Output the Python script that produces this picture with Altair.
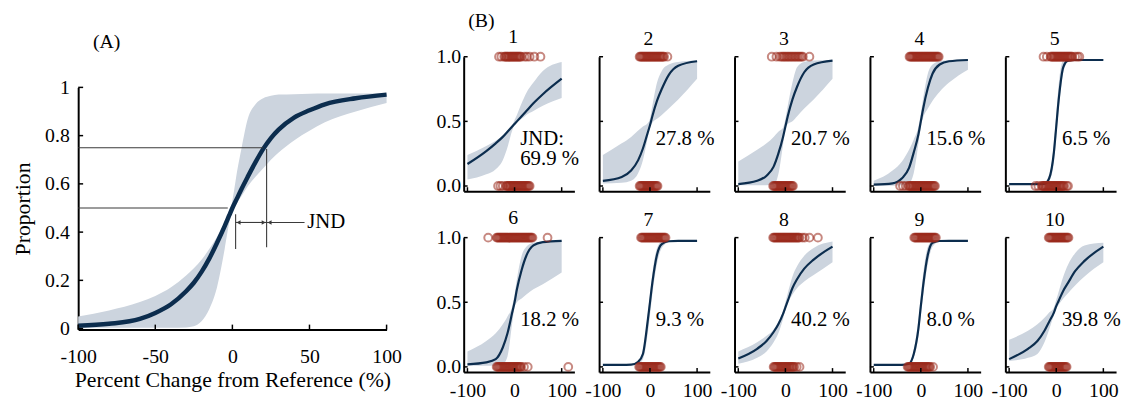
import altair as alt
import pandas as pd

FONT = "Liberation Serif"
NAVY = "#0c2d4e"
BAND = "#ccd4de"
RED = "#9b2a1c"
GUIDE = "#3a3a3a"

# ---------------- Panel (A) ----------------
XA = [-100, -80, -60, -50, -40, -30, -25, -20, -15, -10, -5, -2, 0, 3, 6, 10, 15, 20, 25, 30, 40, 50, 60, 80, 100]
A_MEAN = [0.012, 0.02, 0.04, 0.065, 0.10, 0.155, 0.19, 0.235, 0.29, 0.355, 0.425, 0.47, 0.50, 0.54, 0.58, 0.63, 0.69, 0.745, 0.79, 0.825, 0.875, 0.905, 0.93, 0.955, 0.97]
A_UPPER = [0.05, 0.075, 0.11, 0.135, 0.17, 0.22, 0.25, 0.285, 0.33, 0.38, 0.44, 0.475, 0.53, 0.65, 0.75, 0.87, 0.93, 0.955, 0.965, 0.97, 0.972, 0.974, 0.975, 0.975, 0.975]
A_LOWER = [0.003, 0.003, 0.003, 0.003, 0.003, 0.005, 0.01, 0.03, 0.08, 0.17, 0.33, 0.44, 0.49, 0.52, 0.55, 0.59, 0.63, 0.665, 0.70, 0.73, 0.78, 0.82, 0.855, 0.90, 0.935]
A_XTICKS = [-100, -50, 0, 50, 100]
A_YTICKS = [0, 0.2, 0.4, 0.6, 0.8, 1]
GUIDE_X1 = [-100, -100, 2.1, 22.2, 2.1, 22.2]
GUIDE_X2 = [-3, 20, 2.1, 22.2, 22.2, 46.8]
GUIDE_Y1 = [0.5, 0.75, 0.33, 0.337, 0.44, 0.44]
GUIDE_Y2 = [0.5, 0.75, 0.474, 0.745, 0.44, 0.44]
ARROW_X = [4.0, 20.3, 24.1]
ARROW_Y = [0.44, 0.44, 0.44]
ARROW_SHAPE = ["triangle-left", "triangle-right", "triangle-left"]
JND_X = [48.5]
JND_Y = [0.44]

# ---------------- Panel (B) ----------------
XG = [-100, -60, -40, -25, -15, -5, 0, 5, 15, 25, 40, 60, 100]
MEAN = [
    [0.17, 0.27, 0.33, 0.38, 0.42, 0.46, 0.48, 0.50, 0.54, 0.58, 0.64, 0.71, 0.83],
    [0.04, 0.07, 0.12, 0.20, 0.29, 0.41, 0.47, 0.54, 0.66, 0.75, 0.86, 0.93, 0.965],
    [0.015, 0.04, 0.08, 0.15, 0.25, 0.38, 0.46, 0.54, 0.67, 0.77, 0.88, 0.94, 0.97],
    [0.01, 0.02, 0.06, 0.14, 0.26, 0.40, 0.50, 0.60, 0.76, 0.87, 0.94, 0.965, 0.975],
    [0.015, 0.015, 0.015, 0.017, 0.06, 0.26, 0.46, 0.66, 0.92, 0.97, 0.975, 0.975, 0.975],
    [0.02, 0.035, 0.06, 0.15, 0.26, 0.42, 0.50, 0.60, 0.75, 0.86, 0.94, 0.965, 0.975],
    [0.015, 0.015, 0.017, 0.04, 0.10, 0.35, 0.50, 0.65, 0.87, 0.95, 0.972, 0.975, 0.975],
    [0.065, 0.14, 0.20, 0.27, 0.33, 0.41, 0.46, 0.51, 0.61, 0.68, 0.76, 0.83, 0.93],
    [0.015, 0.015, 0.016, 0.025, 0.10, 0.30, 0.47, 0.63, 0.87, 0.96, 0.974, 0.975, 0.975],
    [0.06, 0.14, 0.20, 0.28, 0.35, 0.42, 0.47, 0.51, 0.59, 0.65, 0.74, 0.82, 0.93],
]
UPPER = [
    [0.24, 0.31, 0.35, 0.39, 0.43, 0.47, 0.51, 0.55, 0.64, 0.72, 0.80, 0.89, 0.96],
    [0.24, 0.33, 0.38, 0.43, 0.46, 0.485, 0.52, 0.62, 0.80, 0.89, 0.94, 0.96, 0.97],
    [0.19, 0.28, 0.33, 0.38, 0.42, 0.45, 0.52, 0.62, 0.80, 0.92, 0.96, 0.97, 0.975],
    [0.04, 0.12, 0.19, 0.28, 0.36, 0.46, 0.56, 0.68, 0.87, 0.94, 0.965, 0.975, 0.98],
    [0.016, 0.016, 0.016, 0.02, 0.08, 0.33, 0.55, 0.78, 0.97, 0.978, 0.978, 0.978, 0.978],
    [0.12, 0.20, 0.26, 0.33, 0.39, 0.47, 0.56, 0.68, 0.86, 0.93, 0.96, 0.97, 0.975],
    [0.015, 0.015, 0.018, 0.05, 0.13, 0.40, 0.56, 0.72, 0.92, 0.97, 0.976, 0.978, 0.978],
    [0.12, 0.19, 0.24, 0.29, 0.35, 0.43, 0.50, 0.57, 0.70, 0.78, 0.86, 0.92, 0.97],
    [0.015, 0.015, 0.017, 0.035, 0.13, 0.37, 0.55, 0.72, 0.93, 0.972, 0.977, 0.978, 0.978],
    [0.21, 0.28, 0.33, 0.38, 0.42, 0.46, 0.52, 0.58, 0.70, 0.79, 0.88, 0.94, 0.96],
]
LOWER = [
    [0.05, 0.09, 0.13, 0.20, 0.30, 0.43, 0.47, 0.49, 0.52, 0.55, 0.58, 0.62, 0.68],
    [0.02, 0.025, 0.04, 0.10, 0.20, 0.37, 0.455, 0.49, 0.52, 0.55, 0.60, 0.67, 0.83],
    [0.005, 0.005, 0.006, 0.01, 0.09, 0.32, 0.44, 0.48, 0.50, 0.54, 0.60, 0.67, 0.83],
    [0.002, 0.002, 0.005, 0.02, 0.10, 0.33, 0.46, 0.53, 0.60, 0.66, 0.73, 0.80, 0.90],
    [0.012, 0.012, 0.013, 0.015, 0.04, 0.18, 0.38, 0.58, 0.88, 0.96, 0.972, 0.975, 0.975],
    [0.008, 0.008, 0.01, 0.02, 0.08, 0.34, 0.46, 0.50, 0.53, 0.56, 0.60, 0.64, 0.73],
    [0.015, 0.015, 0.016, 0.025, 0.06, 0.25, 0.40, 0.56, 0.80, 0.92, 0.965, 0.973, 0.975],
    [0.025, 0.07, 0.12, 0.19, 0.26, 0.37, 0.44, 0.49, 0.56, 0.61, 0.66, 0.71, 0.81],
    [0.014, 0.014, 0.015, 0.02, 0.07, 0.24, 0.40, 0.55, 0.80, 0.93, 0.968, 0.974, 0.975],
    [0.045, 0.07, 0.10, 0.19, 0.29, 0.40, 0.45, 0.48, 0.53, 0.57, 0.63, 0.70, 0.81],
]
# stimulus levels of the individual responses (answered "1" / answered "0")
RESP1 = [
    [-33, -28, -22, -20, -18, -16, -14, -12, -10, -8, -6, -4, -2, 0, 2, 4, 6, 8, 10, 12, 14, 21, 26, 32, 42, 55],
    [-22, -20, -18, -16, -14, -12, -10, -8, -6, -4, -2, 0, 2, 4, 6, 8, 10, 12, 14, 16, 18, 20, 22, 24, 26, 28, 30, 37],
    [-29, -19, -12, -8, -5, -2, 1, 4, 7, 10, 13, 16, 19, 22, 25, 28, 31, 34, 37, 51],
    [-24, -22, -20, -18, -16, -14, -12, -10, -8, -6, -4, -2, 0, 2, 4, 6, 8, 10, 12, 14, 16, 18, 20, 22, 24, 26, 28, 30, 32, 34, 36, 38],
    [-27, -20, -12, -10, -8, -6, -4, -2, 0, 2, 4, 6, 8, 10, 12, 14, 16, 18, 20, 22, 24, 26, 28, 30, 32, 34, 40, 45, 49],
    [-56, -38, -36, -34, -32, -30, -28, -26, -24, -22, -20, -18, -16, -14, -12, -10, -8, -6, -4, -2, 0, 2, 4, 6, 8, 10, 12, 14, 16, 18, 20, 22, 24, 26, 28, 30, 32, 34, 36, 38, 70],
    [-19, -17, -15, -13, -11, -9, -7, -5, -3, -1, 1, 3, 5, 7, 9, 11, 13, 15, 17, 19, 21, 23, 25, 27, 29, 31, 33],
    [-26, -24, -22, -20, -18, -16, -14, -12, -10, -8, -6, -4, -2, 0, 2, 4, 6, 8, 10, 12, 14, 16, 18, 20, 22, 24, 26, 28, 30, 36, 41, 51, 69],
    [-14, -12, -10, -8, -6, -4, -2, 0, 2, 4, 6, 8, 10, 12, 14, 16, 18, 20, 22, 24, 26, 28, 30, 32],
    [-16, -14, -12, -10, -8, -6, -4, -2, 0, 2, 4, 6, 8, 10, 12, 14, 16, 18, 20, 22, 24, 26],
]
RESP0 = [
    [-35, -30, -25, -18, -16, -14, -12, -10, -8, -6, -4, -2, 0, 2, 4, 6, 8, 10, 12, 14, 16, 18, 20, 22, 24, 26, 28, 30, 32],
    [-22, -20, -18, -16, -14, -12, -10, -8, -6, -4, -2, 0, 2, 4, 6, 8, 10, 12, 14, 16],
    [-26, -24, -22, -20, -18, -16, -14, -12, -10, -8, -6, -4, -2, 0, 2, 4, 6, 8, 10, 12, 14, 16],
    [-44, -38, -32, -26, -24, -22, -20, -18, -16, -14, -12, -10, -8, -6, -4, -2, 0, 2, 4, 6, 8, 10, 12, 14, 16, 18, 20, 22, 24, 26, 28, 30],
    [-44, -38, -31, -29, -27, -25, -23, -21, -19, -17, -15, -13, -11, -9, -7, -5, -3, -1, 1, 3, 5, 7, 9, 11, 13, 15, 17, 22, 25],
    [-38, -36, -34, -32, -30, -28, -26, -24, -22, -20, -18, -16, -14, -12, -10, -8, -6, -4, -2, 0, 2, 4, 6, 8, 10, 12, 14, 20, 28, 114],
    [-23, -21, -19, -17, -15, -13, -11, -9, -7, -5, -3, -1, 1, 3, 5, 7, 9, 11, 13, 15, 17, 19, 21, 23],
    [-25, -23, -21, -19, -17, -15, -13, -11, -9, -7, -5, -3, -1, 1, 3, 5, 7, 9, 11, 13, 15, 17, 19, 24, 30],
    [-28, -26, -24, -22, -20, -18, -16, -14, -12, -10, -8, -6, -4, -2, 0, 2, 4, 6, 8, 10, 12, 14, 16, 18, 20, 26],
    [-16, -14, -12, -10, -8, -6, -4, -2, 0, 2, 4, 6, 8, 10, 12, 14, 16, 18, 20, 22],
]
JND_LABELS = ["JND:\n69.9 %", "27.8 %", "20.7 %", "15.6 %", "6.5 %",
              "18.2 %", "9.3 %", "40.2 %", "8.0 %", "39.8 %"]
PANEL_TITLES = ["1", "2", "3", "4", "5", "6", "7", "8", "9", "10"]
B_XTICKS = [-100, 0, 100]
B_YTICKS = [0, 0.5, 1]
LABEL_X = 12
LABEL_Y = 0.45

# ---------------- build panel A ----------------
AW, AH = 312, 245
a_df = pd.DataFrame({"x": XA, "m": A_MEAN, "hi": A_UPPER, "lo": A_LOWER})
g_df = pd.DataFrame({"x1": GUIDE_X1, "x2": GUIDE_X2, "y1": GUIDE_Y1, "y2": GUIDE_Y2})
ar_df = pd.DataFrame({"x": ARROW_X, "y": ARROW_Y, "s": ARROW_SHAPE})
jt_df = pd.DataFrame({"x": JND_X, "y": JND_Y, "t": ["JND"]})

a_xs = alt.Scale(domain=[-100, 100], nice=False, zero=False)
a_ys = alt.Scale(domain=[-0.004, 1], nice=False, zero=False)
a_xax = alt.Axis(values=A_XTICKS, labelExpr="'' + datum.value", title="Percent Change from Reference (%)",
                 labelPadding=17, titlePadding=4, labelFlush=False, labelOverlap=False, titleFontSize=22)
a_yax = alt.Axis(values=A_YTICKS, labelExpr="'' + datum.value", title="Proportion",
                 labelPadding=9, titlePadding=10, labelFlush=False, labelOverlap=False, titleFontSize=22)


def AX(f):
    return alt.X(f, type="quantitative", scale=a_xs, axis=a_xax)


def AY(f):
    return alt.Y(f, type="quantitative", scale=a_ys, axis=a_yax)


base_a = alt.Chart(a_df)
bandA = base_a.mark_area(color=BAND, interpolate="monotone").encode(x=AX("x"), y=AY("lo"), y2="hi")
lineA = base_a.mark_line(color=NAVY, strokeWidth=4.5, interpolate="monotone").encode(x=AX("x"), y=AY("m"))
guideA = alt.Chart(g_df).mark_rule(color=GUIDE, strokeWidth=1.1).encode(x=AX("x1"), x2="x2", y=AY("y1"), y2="y2")
arrowA = alt.Chart(ar_df).mark_point(filled=True, color=GUIDE, size=22, opacity=1).encode(
    x=AX("x"), y=AY("y"), shape=alt.Shape("s:N", scale=None, legend=None))
jndA = alt.Chart(jt_df).mark_text(align="left", baseline="middle", font=FONT, fontSize=21, color="black").encode(
    x=AX("x"), y=AY("y"), text="t:N")
ytA = alt.Chart(pd.DataFrame({"v": A_YTICKS})).mark_rule(color="black", strokeWidth=1.5).encode(
    y=AY("v"), x=alt.value(0), x2=alt.value(5))
xtA = alt.Chart(pd.DataFrame({"v": A_XTICKS})).mark_rule(color="black", strokeWidth=1.5).encode(
    x=AX("v"), y=alt.value(AH), y2=alt.value(AH - 5))

A = alt.layer(bandA, lineA, guideA, arrowA, jndA, ytA, xtA).properties(width=AW, height=AH)

# label "(A)" sits in a short strip above the plot; the strip pushes panel A down
head_a = alt.Chart(pd.DataFrame({"t": ["(A)"]})).mark_text(
    align="left", baseline="middle", font=FONT, fontSize=20, color="black"
).encode(x=alt.value(15), y=alt.value(-15), text="t:N").properties(width=AW, height=19)
Acol = alt.vconcat(head_a, A, spacing=0)

# ---------------- build panels B ----------------
BW, BH = 112, 136
b_xs = alt.Scale(domain=[-108, 127], nice=False, zero=False)
b_ys = alt.Scale(domain=[-0.04, 1.0], nice=False, zero=False)


def panel(i):
    row, col = divmod(i, 5)
    xax = alt.Axis(values=B_XTICKS, labels=(row == 1), labelExpr="'' + datum.value", title=None,
                   labelPadding=9, labelFlush=False, labelOverlap=False, labelFontSize=20)
    yax = alt.Axis(values=B_YTICKS, labels=(col == 0), format=".1f", title=None,
                   labelPadding=3, labelFlush=False, labelOverlap=False, labelFontSize=20)

    def BX(f):
        return alt.X(f, type="quantitative", scale=b_xs, axis=xax)

    def BY(f):
        return alt.Y(f, type="quantitative", scale=b_ys, axis=yax)

    cdf = pd.DataFrame({"x": XG, "m": MEAN[i], "hi": UPPER[i], "lo": LOWER[i]})
    pts = pd.DataFrame({"x": RESP1[i] + RESP0[i],
                        "y": [1.0] * len(RESP1[i]) + [0.0] * len(RESP0[i])})
    lab = pd.DataFrame({"x": [LABEL_X], "y": [LABEL_Y], "t": [JND_LABELS[i]]})

    band = alt.Chart(cdf).mark_area(color=BAND, interpolate="monotone").encode(x=BX("x"), y=BY("lo"), y2="hi")
    line = alt.Chart(cdf).mark_line(color=NAVY, strokeWidth=2.2, interpolate="monotone").encode(x=BX("x"), y=BY("m"))
    dots = alt.Chart(pts).mark_point(shape="circle", filled=False, size=62, strokeWidth=2.0,
                                     color=RED, opacity=0.55).encode(x=BX("x"), y=BY("y"))
    text = alt.Chart(lab).mark_text(align="left", baseline="top", font=FONT, fontSize=21, color="black",
                                    lineBreak="\n", lineHeight=21).encode(x=BX("x"), y=BY("y"), text="t:N")
    yt = alt.Chart(pd.DataFrame({"v": B_YTICKS})).mark_rule(color="black", strokeWidth=1.5).encode(
        y=BY("v"), x=alt.value(0), x2=alt.value(4))
    xt = alt.Chart(pd.DataFrame({"v": B_XTICKS})).mark_rule(color="black", strokeWidth=1.5).encode(
        x=BX("v"), y=alt.value(BH), y2=alt.value(BH - 4))
    return alt.layer(band, line, dots, text, yt, xt).properties(
        width=BW, height=BH,
        title=alt.TitleParams(PANEL_TITLES[i], anchor="middle", frame="group", dx=-6, offset=0,
                              font=FONT, fontSize=20, fontWeight="normal", color="black"))


row1 = alt.hconcat(*[panel(i) for i in range(5)], spacing=25, bounds="flush")
row2 = alt.hconcat(*[panel(i) for i in range(5, 10)], spacing=25, bounds="flush")
B = alt.vconcat(row1, row2, spacing=10,
                title=alt.TitleParams("(B)", anchor="start", dx=33, offset=-4,
                                      font=FONT, fontSize=20, fontWeight="normal", color="black"))

chart = alt.hconcat(Acol, B, spacing=33).properties(
    padding={"left": 3, "top": 0, "right": 0, "bottom": 0}
).configure_view(stroke="transparent").configure_axis(
    labelFont=FONT, titleFont=FONT, labelColor="black", titleColor="black",
    domainColor="black", domainWidth=2, ticks=False, grid=False,
    labelFontSize=20, titleFontSize=21, titleFontWeight="normal"
).configure_title(font=FONT, fontSize=20, fontWeight="normal", color="black")

chart.save("out.html", embed_options={"renderer": "svg", "actions": False})
